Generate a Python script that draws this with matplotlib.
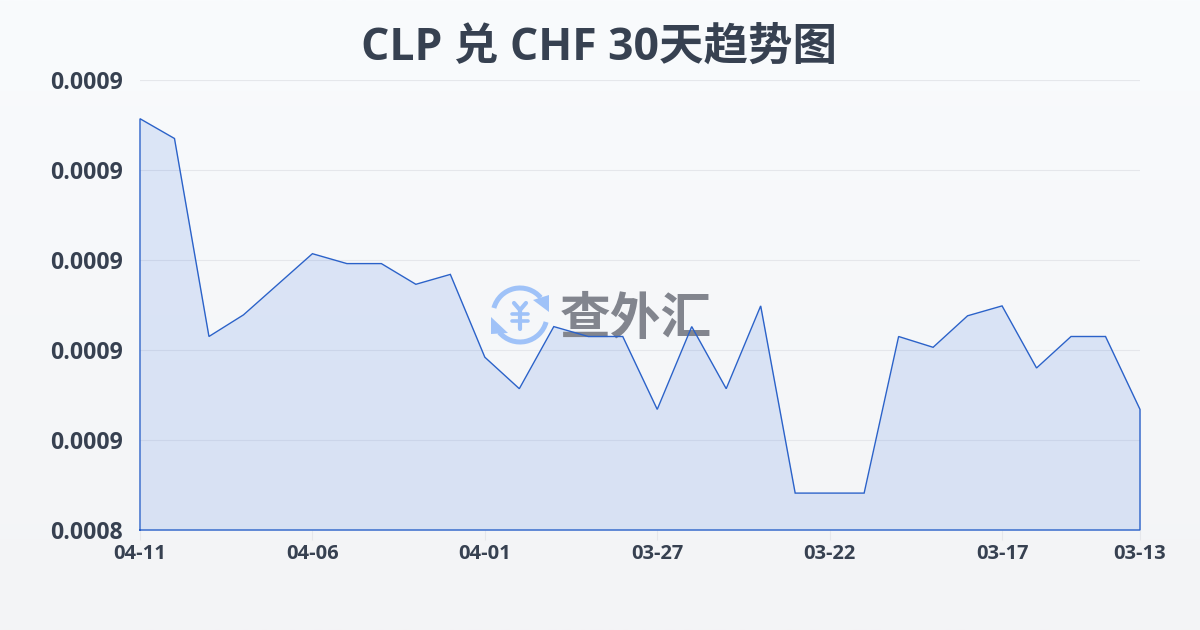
import numpy as np
import matplotlib
matplotlib.use("Agg")
import matplotlib.pyplot as plt
from matplotlib.patches import Arc, Polygon

plt.rcParams['font.family'] = ['Open Sans', 'Noto Sans CJK SC', 'DejaVu Sans']

# valeurs (du plus recent au plus ancien)
rates = [0.00089570, 0.00089350, 0.00087150, 0.00087390, 0.00087730, 0.00088070,
         0.00087960, 0.00087960, 0.00087730, 0.00087840, 0.00086920, 0.00086570,
         0.00087260, 0.00087150, 0.00087150, 0.00086340, 0.00087260, 0.00086570,
         0.00087490, 0.00085410, 0.00085410, 0.00085410, 0.00087150, 0.00087030,
         0.00087380, 0.00087490, 0.00086800, 0.00087150, 0.00087150, 0.00086340]
tick_pos = [0, 5, 10, 15, 20, 25, 29]
tick_labels = ['04-11', '04-06', '04-01', '03-27', '03-22', '03-17', '03-13']
y_ticks = [0.00085, 0.00086, 0.00087, 0.00088, 0.00089, 0.00090]
y_labels = ['0.0008', '0.0009', '0.0009', '0.0009', '0.0009', '0.0009']
title = 'CLP 兑 CHF 30天趋势图'
watermark = '查外汇'

W, H = 1200, 630
fig = plt.figure(figsize=(W / 100, H / 100), dpi=100)

# fond en degrade
bg = fig.add_axes([0, 0, 1, 1], zorder=0)
top_col = np.array([0xf9, 0xfb, 0xfd]) / 255
bot_col = np.array([0xf3, 0xf4, 0xf6]) / 255
t = np.linspace(0, 1, 256)[:, None, None]
bg.imshow(top_col * (1 - t) + bot_col * t, aspect='auto', extent=[0, 1, 0, 1])
bg.axis('off')

ax = fig.add_axes([140 / W, 1 - 530 / H, 1000 / W, 450 / H], zorder=1)
ax.patch.set_alpha(0)
x = np.arange(len(rates))
ax.fill_between(x, rates, 0.00085, color='#3b74e0', alpha=0.15, lw=0, zorder=2)

ax.set_xlim(0, len(rates) - 1)
ax.set_ylim(0.00085, 0.00090)
ax.set_xticks(tick_pos)
ax.set_xticklabels(tick_labels, fontsize=14.5, fontweight='bold', color='#374151')
ax.set_yticks(y_ticks)
ax.set_yticklabels(y_labels, fontsize=16.6, fontweight='bold', color='#374151')
ax.tick_params(axis='x', length=7, width=0.8, color='#e5e7eb', pad=3)
ax.tick_params(axis='y', length=0, pad=12.2)
ax.grid(axis='y', color='#e5e7eb', lw=0.8, zorder=1)
ax.set_axisbelow(True)
for s in ax.spines.values():
    s.set_visible(False)

fig.text(0.499, 1 - 48 / H, title, ha='center', va='center', fontsize=32,
         fontweight='bold', color='#374151')

# filigrane : logo + texte, en coordonnees pixels
wm = fig.add_axes([0, 0, 1, 1], zorder=2)
wm.set_xlim(0, W)
wm.set_ylim(H, 0)
wm.axis('off')
blue = '#9fc2f8'
wm.add_patch(Arc((520, 315), 54, 54, theta1=195, theta2=320, color=blue, lw=3.6))
wm.add_patch(Arc((520, 315), 54, 54, theta1=15, theta2=140, color=blue, lw=3.6))
wm.add_patch(Polygon([[549, 312], [533, 300], [549, 295]], color=blue, lw=0))
wm.add_patch(Polygon([[491, 317], [508, 333], [491, 334]], color=blue, lw=0))
wm.plot([514, 520, 526], [303, 310, 303], color=blue, lw=3, solid_capstyle='round')
wm.plot([520, 520], [310, 329], color=blue, lw=3, solid_capstyle='round')
wm.plot([512, 528], [314, 314], color=blue, lw=2.6, solid_capstyle='round')
wm.plot([512, 528], [321, 321], color=blue, lw=2.6, solid_capstyle='round')
wm.text(636, 321, watermark, ha='center', va='center', fontsize=36.5, fontweight='bold',
        color='#82858e')

# la courbe passe au-dessus du filigrane
over = fig.add_axes(ax.get_position(), zorder=3)
over.patch.set_alpha(0)
over.axis('off')
over.set_xlim(ax.get_xlim())
over.set_ylim(ax.get_ylim())
over.plot(np.r_[x[0], x, x[-1], x[0]], np.r_[0.00085, rates, 0.00085, 0.00085],
          color='#2b62c9', lw=1.0, clip_on=False, solid_joinstyle='miter')

plt.savefig('out.png', dpi=100)
